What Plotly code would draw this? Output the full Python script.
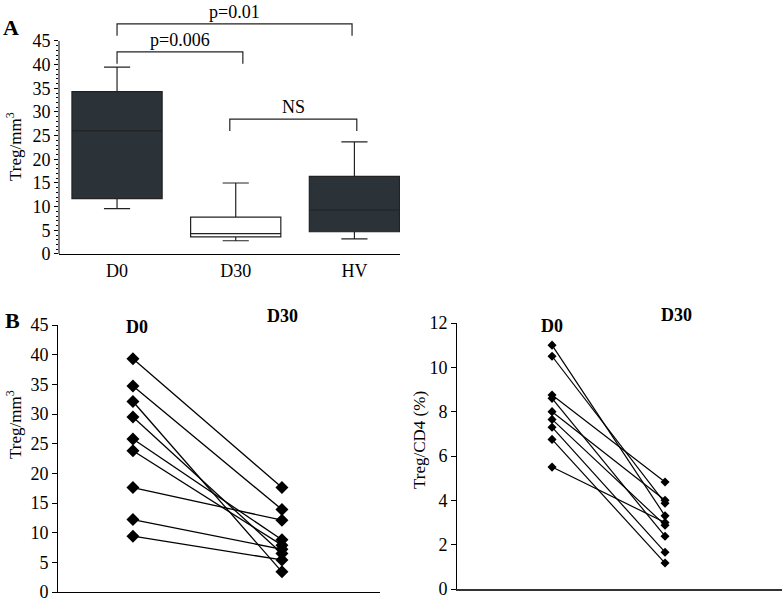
import plotly.graph_objects as go

# ---------------- data ----------------
# Panel A: box plot statistics (Treg/mm3)
groups = ["D0", "D30", "HV"]
q1 = [11.7, 3.6, 4.7]
median = [26.0, 4.3, 9.3]
q3 = [34.3, 7.8, 16.4]
low_whisker = [9.6, 2.8, 3.2]
high_whisker = [39.5, 15.0, 23.7]
box_colors = ["#2b3238", "#ffffff", "#2b3238"]

# significance comparisons: (from group, to group, bracket top, label)
cmp_from = [0, 0, 1]
cmp_to = [1, 2, 2]
cmp_top = [42.7, 48.6, 28.5]
cmp_label = ["p=0.006", "p=0.01", "NS"]

# Panel B left: paired Treg/mm3
treg_d0 = [39.3, 34.7, 32.1, 29.5, 25.8, 23.8, 17.6, 12.2, 9.4]
treg_d30 = [17.6, 13.9, 3.4, 6.5, 8.8, 7.9, 12.1, 7.2, 5.4]

# Panel B right: paired Treg/CD4 (%)
pct_d0 = [11.0, 10.5, 8.75, 8.6, 8.0, 7.65, 7.3, 6.75, 5.5]
pct_d30 = [3.3, 3.87, 4.83, 2.38, 4.0, 2.88, 1.66, 1.17, 3.0]

timepoints = ["D0", "D30"]

FONT = "Liberation Serif"
W, H = 782, 601

fig = go.Figure()

# ---------------- Panel A ----------------
for i, g in enumerate(groups):
    fig.add_trace(go.Box(
        x=[i], q1=[q1[i]], median=[median[i]], q3=[q3[i]],
        lowerfence=[low_whisker[i]], upperfence=[high_whisker[i]],
        fillcolor=box_colors[i], line=dict(color="#222222", width=1.2),
        width=0.76, whiskerwidth=0.29, boxpoints=False,
        xaxis="x", yaxis="y", showlegend=False, hoverinfo="skip"))

# brackets
drop = 2.5
for a, b, top, lab in zip(cmp_from, cmp_to, cmp_top, cmp_label):
    xa = a
    xb = b + (0.06 if (a, b) == (0, 1) else (-0.02 if (a, b) == (0, 2) else 0.02))
    if (a, b) == (1, 2):
        xa = a - 0.05
    fig.add_trace(go.Scatter(
        x=[xa, xa, xb, xb], y=[top - drop, top, top, top - drop],
        mode="lines", line=dict(color="#222222", width=1.2),
        xaxis="x", yaxis="y", showlegend=False, hoverinfo="skip"))
    fig.add_annotation(x=(xa + xb) / 2, y=top + 2.6, xref="x", yref="y",
                       text=lab, showarrow=False,
                       font=dict(family=FONT, size=18, color="black"))

# y axis line only from 0 to 45
fig.add_shape(type="line", xref="x domain", yref="y", x0=0, x1=0, y0=0, y1=45,
              line=dict(color="black", width=1))

# ---------------- Panel B left ----------------
for a, b in zip(treg_d0, treg_d30):
    fig.add_trace(go.Scatter(
        x=[0, 1], y=[a, b], mode="lines+markers",
        line=dict(color="black", width=1.3),
        marker=dict(symbol="diamond", size=10, color="black"),
        xaxis="x2", yaxis="y2", showlegend=False, hoverinfo="skip",
        cliponaxis=False))

# ---------------- Panel B right ----------------
for a, b in zip(pct_d0, pct_d30):
    fig.add_trace(go.Scatter(
        x=[0, 1], y=[a, b], mode="lines+markers",
        line=dict(color="black", width=1.2),
        marker=dict(symbol="diamond", size=7, color="black"),
        xaxis="x3", yaxis="y3", showlegend=False, hoverinfo="skip",
        cliponaxis=False))

tickfont = dict(family=FONT, size=18, color="black")

def px_x(p):
    return p / W

def px_y(p):
    return (H - p) / H

# panel A axes: y=0 at px 254, 45 at px 41 -> 4.733 px/unit; extend range upward
a_ppu = (254 - 41) / 45.0
a_top = 53.5
fig.update_layout(
    width=W, height=H, autosize=False,
    margin=dict(l=0, r=0, t=0, b=0, pad=0, autoexpand=False),
    paper_bgcolor="white", plot_bgcolor="white",
    font=dict(family=FONT, color="black"),
    xaxis=dict(domain=[px_x(59), px_x(400)], range=[-0.489, 2.384],
               tickvals=[0, 1, 2], ticktext=groups, ticks="", tickfont=tickfont,
               showline=True, linecolor="black", linewidth=1, automargin=False,
               showgrid=False, zeroline=False, ticklabeloverflow="allow"),
    yaxis=dict(domain=[px_y(254), px_y(254 - a_top * a_ppu)], range=[0, a_top],
               tickvals=list(range(0, 50, 5)), ticks="outside", ticklen=4,
               tickcolor="black", tickfont=tickfont, showline=False,
               minor=dict(tickvals=list(range(0, 46)), ticks="outside", ticklen=2,
                          tickcolor="black"),
               showgrid=False, zeroline=False, anchor="x", automargin=False,
               ticklabeloverflow="allow"),
    xaxis2=dict(domain=[px_x(58), px_x(380)], range=[-0.503, 1.658],
                showticklabels=False, ticks="", showline=True, linecolor="black",
                linewidth=1, showgrid=False, zeroline=False, anchor="y2",
                automargin=False),
    yaxis2=dict(domain=[px_y(592), px_y(325)], range=[0, 45],
                tickvals=list(range(0, 50, 5)), ticks="outside", ticklen=5,
                tickcolor="black", tickfont=tickfont, showline=True,
                linecolor="black", linewidth=1, showgrid=False, zeroline=False,
                anchor="x2", automargin=False, ticklabeloverflow="allow"),
    xaxis3=dict(domain=[px_x(457), 1.0], range=[-0.841, 2.035],
                showticklabels=False, ticks="", showline=True, linecolor="#333333",
                linewidth=1.5, showgrid=False, zeroline=False, anchor="y3",
                automargin=False),
    yaxis3=dict(domain=[px_y(589), px_y(323)], range=[0, 12],
                tickvals=list(range(0, 13, 2)), ticks="outside", ticklen=5,
                tickcolor="black", tickfont=tickfont, showline=True,
                linecolor="black", linewidth=1, showgrid=False, zeroline=False,
                anchor="x3", automargin=False, ticklabeloverflow="allow"),
)

# panel letters
fig.add_annotation(x=px_x(11), y=px_y(28), xref="paper", yref="paper", text="<b>A</b>",
                   xanchor="center", yanchor="middle",
                   showarrow=False, font=dict(family=FONT, size=22, color="black"))
fig.add_annotation(x=px_x(12), y=px_y(320), xref="paper", yref="paper", text="<b>B</b>",
                   xanchor="center", yanchor="middle",
                   showarrow=False, font=dict(family=FONT, size=22, color="black"))

# y-axis titles
title_font = dict(family=FONT, size=17, color="black")
fig.add_annotation(x=px_x(14), y=px_y(147), xref="paper", yref="paper",
                   xanchor="center", yanchor="middle",
                   text="Treg/mm<sup>3</sup>", textangle=-90, showarrow=False, font=title_font)
fig.add_annotation(x=px_x(14), y=px_y(425), xref="paper", yref="paper",
                   xanchor="center", yanchor="middle",
                   text="Treg/mm<sup>3</sup>", textangle=-90, showarrow=False, font=title_font)
fig.add_annotation(x=px_x(419), y=px_y(440), xref="paper", yref="paper",
                   xanchor="center", yanchor="middle",
                   text="Treg/CD4 (%)", textangle=-90, showarrow=False, font=title_font)

# timepoint labels in panel B (paper coords so they are not hidden above the range)
bold = dict(family=FONT, size=18, color="black")
tp_pos = [(137, 327), (282, 316), (552, 326), (676, 315)]
tp_txt = [timepoints[0], timepoints[1], timepoints[0], timepoints[1]]
for (px, py), t in zip(tp_pos, tp_txt):
    fig.add_annotation(x=px_x(px), y=px_y(py), xref="paper", yref="paper",
                       xanchor="center", yanchor="middle",
                       text="<b>%s</b>" % t, showarrow=False, font=bold)

# remove the default page margin so the figure sits at the window's top-left corner
fig.write_html("out.html",
               config={"displayModeBar": False, "staticPlot": True},
               post_script="document.body.style.margin='0px';"
                           "document.body.style.overflow='hidden';")
